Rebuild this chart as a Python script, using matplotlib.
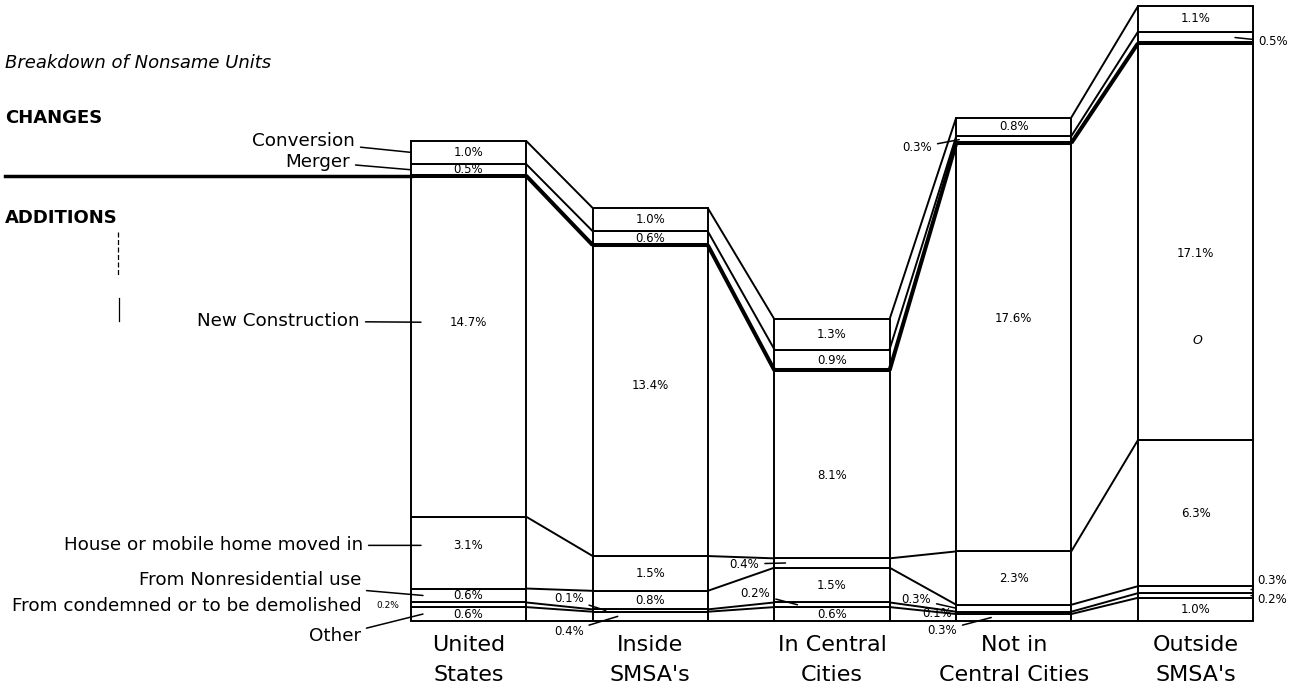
import matplotlib.pyplot as plt
import numpy as np

# Breakdown of nonsame units, percent of total, bottom to top
categories = ["United\nStates", "Inside\nSMSA's", "In Central\nCities",
              "Not in\nCentral Cities", "Outside\nSMSA's"]
components = ["Other", "From condemned or to be demolished",
              "From Nonresidential use", "House or mobile home moved in",
              "New Construction", "Merger", "Conversion"]
other = [0.6, 0.4, 0.6, 0.3, 1.0]
condemned = [0.2, 0.1, 0.2, 0.1, 0.2]
nonresidential = [0.6, 0.8, 1.5, 0.3, 0.3]
moved_in = [3.1, 1.5, 0.4, 2.3, 6.3]
new_construction = [14.7, 13.4, 8.1, 17.6, 17.1]
merger = [0.5, 0.6, 0.9, 0.3, 0.5]
conversion = [1.0, 1.0, 1.3, 0.8, 1.1]

vals = np.array([other, condemned, nonresidential, moved_in,
                 new_construction, merger, conversion])
cum = np.vstack([np.zeros(vals.shape[1]), np.cumsum(vals, axis=0)])
xpos = np.arange(len(categories))
bw = 0.633
PX, PY = 181.75, 23.2   # pixels per data unit (for offsets only)

fig = plt.figure(figsize=(12.9, 6.88), dpi=100)
ax = fig.add_axes([0, 0, 1, 1])
ax.set_xlim(-468.5 / PX, (1290 - 468.5) / PX)
ax.set_ylim(-67 / PY, 621 / PY)
ax.axis("off")

LW, THICK = 1.4, 2.9

# stacked columns
for k in range(len(components)):
    ax.bar(xpos, vals[k], bw, bottom=cum[k], color="white",
           edgecolor="black", linewidth=LW, zorder=2)
# boundary between additions and changes drawn heavier
ax.hlines(cum[5], xpos - bw / 2, xpos + bw / 2, color="black",
          linewidth=THICK, zorder=3)

# connecting lines between neighbouring columns
for k in range(cum.shape[0]):
    for i in range(len(xpos) - 1):
        ax.plot([xpos[i] + bw / 2, xpos[i + 1] - bw / 2],
                [cum[k][i], cum[k][i + 1]], color="black",
                linewidth=THICK if k == 5 else LW, zorder=3,
                solid_capstyle="butt")

# rule separating CHANGES from ADDITIONS
ax.plot([ax.get_xlim()[0] + 5 / PX, xpos[0] - bw / 2], [cum[5][0]] * 2,
        color="black", linewidth=THICK - 0.4, zorder=3)


def seg_y(i, k, frac=0.5):
    return cum[k][i] + frac * vals[k][i]


def pct(v):
    return f"{v:.1f}%"


def leader(i, k, text, dx, dy, side=-1, into=0, frac=0.5, fs=8.5,
           ha="center", arrow=True):
    x = xpos[i] + side * bw / 2 - side * into / PX
    props = dict(arrowstyle="-", lw=1.1, color="black", shrinkA=2,
                 shrinkB=0) if arrow else None
    ax.annotate(text, (x, seg_y(i, k, frac)), xytext=(dx, dy),
                textcoords="offset pixels", ha=ha, va="center",
                fontsize=fs, arrowprops=props, zorder=4)


# values written inside the columns
inside = {
    0: [0, 2, 3, 4, 5, 6],
    1: [2, 3, 4, 5, 6],
    2: [0, 2, 4, 5, 6],
    3: [3, 4, 6],
    4: [0, 3, 4, 6],
}
new_frac = [0.57, 0.55, 0.44, 0.57, 0.47]
for i, ks in inside.items():
    for k in ks:
        frac = new_frac[i] if k == 4 else (0.6 if (i, k) == (0, 3) else 0.5)
        ax.text(xpos[i], seg_y(i, k, frac), pct(vals[k][i]), ha="center",
                va="center", fontsize=8.5, zorder=4)

# small segments labelled outside the columns
ax.annotate(pct(vals[1][0]), (xpos[0] - bw / 2, seg_y(0, 1)), xytext=(-12, -1),
            textcoords="offset pixels", ha="right", va="center", fontsize=6.5)
leader(1, 1, pct(vals[1][1]), -37, 12, into=13)
leader(1, 0, pct(vals[0][1]), -49, -15, into=25)
leader(2, 3, pct(vals[3][2]), -41, -1, into=11)
leader(2, 1, pct(vals[1][2]), -42, 11, into=23)
leader(3, 5, pct(vals[5][3]), -42, -8, into=3)
leader(3, 2, pct(vals[2][3]), -40, 9, into=0)
leader(3, 1, pct(vals[1][3]), -19, -1, arrow=False)
leader(3, 0, pct(vals[0][3]), -49, -13, into=35)
leader(4, 5, pct(vals[5][4]), 23, -4, side=1, into=18, ha="left")
leader(4, 2, pct(vals[2][4]), 6, 9, side=1, into=2, ha="left")
leader(4, 1, pct(vals[1][4]), 6, -4, side=1, into=2, ha="left")

# component names on the left, pointing at the first column
name_pos = {
    6: dict(dx=-56, dy=11),
    5: dict(dx=-61, dy=8),
    4: dict(dx=-61, dy=1, into=10, frac=0.57),
    3: dict(dx=-58, dy=0, into=10, frac=0.6),
    2: dict(dx=-62, dy=15, into=12),
    1: dict(dx=-49, dy=-1, arrow=False),
    0: dict(dx=-62, dy=-22, into=12),
}
for k, kw in name_pos.items():
    leader(0, k, components[k], ha="right", fs=13.2, **kw)

# column names, one text per line
for i, cat in enumerate(categories):
    for j, line in enumerate(cat.split("\n")):
        ax.text(xpos[i], (-24 - 30 * j) / PY, line, ha="center",
                va="center", fontsize=16)

# headings
fig.text(5 / 1290, 1 - 63 / 688, "Breakdown of Nonsame Units", style="italic",
         fontsize=13, va="center", ha="left")
fig.text(5 / 1290, 1 - 118 / 688, "CHANGES", fontweight="bold", fontsize=13,
         va="center", ha="left")
fig.text(5 / 1290, 1 - 218 / 688, "ADDITIONS", fontweight="bold", fontsize=13,
         va="center", ha="left")
fig.add_artist(plt.Line2D([118 / 1290] * 2, [1 - 232 / 688, 1 - 275 / 688],
                          color="black", lw=0.9, ls=(0, (4, 2))))
fig.add_artist(plt.Line2D([119 / 1290] * 2, [1 - 298 / 688, 1 - 321 / 688],
                          color="black", lw=0.9))
ax.text(xpos[4] + 0.01, seg_y(4, 4, 0.25), "O", style="italic", fontsize=9,
        ha="center", va="center")

fig.savefig("out.png", dpi=100, facecolor="white")
